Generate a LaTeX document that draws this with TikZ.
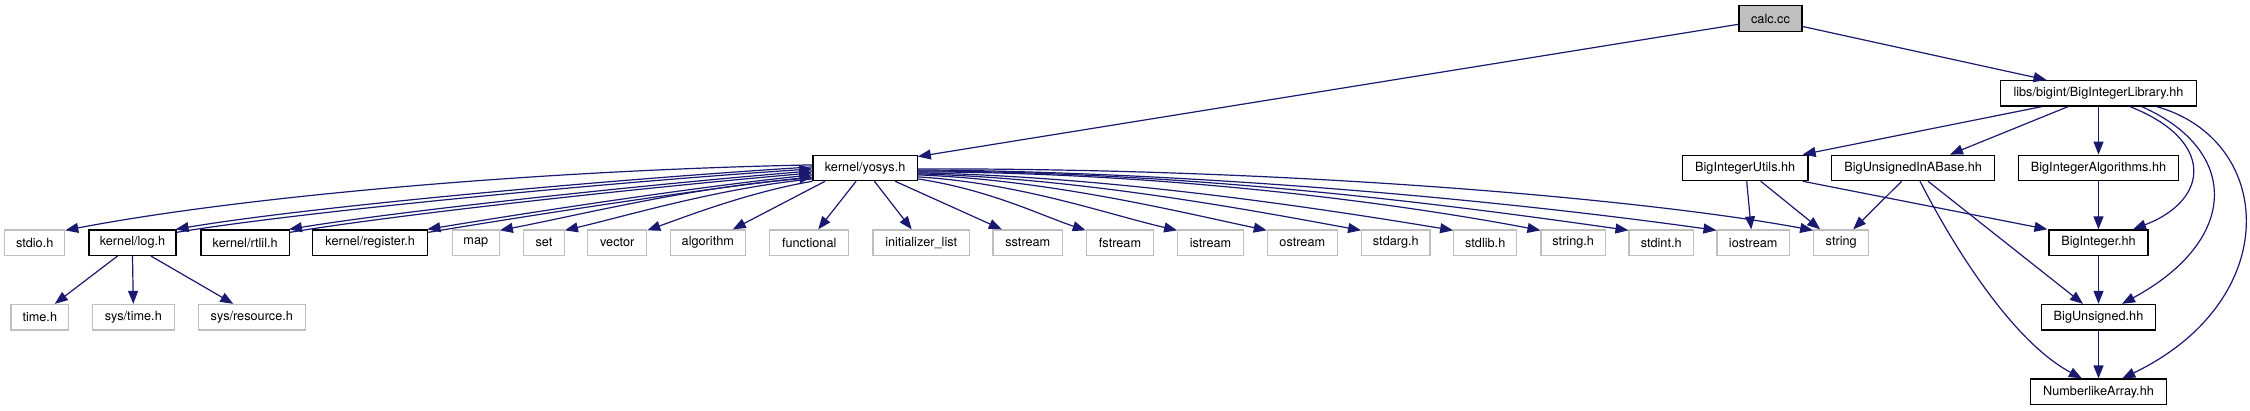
\documentclass[tikz,border=0pt]{standalone}
\usepackage{fontspec}
\setmainfont{TeX Gyre Heros}
\usetikzlibrary{arrows.meta}
\definecolor{edgecol}{RGB}{25,25,112}
\definecolor{extgray}{RGB}{191,191,191}
\begin{document}
\begin{tikzpicture}[x=1pt,y=-1pt,
  box/.style={draw=black, line width=1.2pt, fill=white, minimum height=25.5pt, inner sep=0pt, font=\fontsize{12.7pt}{14pt}\selectfont},
  extbox/.style={box, draw=extgray},
  rootbox/.style={box, fill=extgray},
  edge/.style={draw=edgecol, line width=1.2pt, -{Triangle[length=13pt,width=10pt]}}]
\useasboundingbox (0,0) rectangle (2250,411);
% row 0
\node[rootbox, minimum width=63pt] (calc) at (1770.5,18.5) {calc.cc};
% row 1
\node[box, minimum width=196.4pt] (lib) at (2098.5,93.3) {libs/bigint/BigIntegerLibrary.hh};
% row 2
\node[box, minimum width=104.3pt] (yosys) at (865.1,167.9) {kernel/yosys.h};
\node[box, minimum width=125.7pt] (utils) at (1745.2,167.9) {BigIntegerUtils.hh};
\node[box, minimum width=163pt] (base) at (1913.2,167.9) {BigUnsignedInABase.hh};
\node[box, minimum width=160.4pt] (algo) at (2098.5,167.9) {BigIntegerAlgorithms.hh};
% row 3
\node[extbox, minimum width=60pt] (stdio) at (34.7,242.7) {stdio.h};
\node[box, minimum width=87pt] (log) at (132.5,242.7) {kernel/log.h};
\node[box, minimum width=88.3pt] (rtlil) at (245.2,242.7) {kernel/rtlil.h};
\node[box, minimum width=115pt] (register) at (370.2,242.7) {kernel/register.h};
\node[extbox, minimum width=47pt] (map) at (475.8,242.7) {map};
\node[extbox, minimum width=40.6pt] (set) at (544,242.7) {set};
\node[extbox, minimum width=59pt] (vector) at (617.2,242.7) {vector};
\node[extbox, minimum width=75pt] (algorithm) at (707.8,242.7) {algorithm};
\node[extbox, minimum width=79pt] (functional) at (809.2,242.7) {functional};
\node[extbox, minimum width=96.3pt] (initlist) at (921.2,242.7) {initializer\_list};
\node[extbox, minimum width=69.7pt] (sstream) at (1027.8,242.7) {sstream};
\node[extbox, minimum width=67.4pt] (fstream) at (1120,242.7) {fstream};
\node[extbox, minimum width=65.6pt] (istream) at (1210.5,242.7) {istream};
\node[extbox, minimum width=70pt] (ostream) at (1302.3,242.7) {ostream};
\node[extbox, minimum width=68.3pt] (stdarg) at (1395.8,242.7) {stdarg.h};
\node[extbox, minimum width=63pt] (stdlib) at (1485.2,242.7) {stdlib.h};
\node[extbox, minimum width=64.3pt] (stringh) at (1573.2,242.7) {string.h};
\node[extbox, minimum width=64.3pt] (stdint) at (1661.2,242.7) {stdint.h};
\node[extbox, minimum width=72.3pt] (iostream) at (1753.2,242.7) {iostream};
\node[extbox, minimum width=55pt] (string) at (1841.2,242.7) {string};
\node[box, minimum width=99pt] (bigint) at (2098.5,242.7) {BigInteger.hh};
% row 4
\node[extbox, minimum width=57.7pt] (timeh) at (39.8,317.2) {time.h};
\node[extbox, minimum width=82pt] (systime) at (133.3,317.2) {sys/time.h};
\node[extbox, minimum width=107pt] (sysres) at (251.8,317.2) {sys/resource.h};
\node[box, minimum width=113.6pt] (bigunsigned) at (2098.5,317.2) {BigUnsigned.hh};
% row 5
\node[box, minimum width=135.3pt] (numarr) at (2098.5,391.8) {NumberlikeArray.hh};

% calc.cc edges
\draw[edge] ([yshift=-5.8pt]calc.west) -- ([yshift=-2pt]yosys.north east);
\draw[edge] ([yshift=-8pt]calc.east) -- ([xshift=-52pt]lib.north);

% yosys left fan
\draw[edge] ([yshift=3pt]yosys.west) .. controls (550,170) and (250,195) .. ([yshift=-1pt]stdio.north east);
\draw[edge] ([yshift=1pt]yosys.west) .. controls (600,180) and (300,208) .. ([xshift=-1pt]log.north east);
\draw[edge] ([yshift=-3pt]log.north east) .. controls (300,212) and (600,183) .. ([yshift=-1pt]yosys.west);
\draw[edge] ([yshift=-3pt]yosys.west) .. controls (650,184) and (400,211) .. ([xshift=-1pt]rtlil.north east);
\draw[edge] ([yshift=-3pt]rtlil.north east) .. controls (400,214) and (650,187) .. ([yshift=-5pt]yosys.west);
\draw[edge] ([yshift=-7pt]yosys.west) .. controls (700,186) and (520,214) .. ([xshift=-1pt]register.north east);
\draw[edge] ([yshift=-3pt]register.north east) .. controls (520,217) and (700,189) .. ([yshift=-9pt]yosys.west);
\draw[edge] ([yshift=-10pt]yosys.west) .. controls (700,185) and (580,215) .. ([yshift=-1pt]map.north east);
\draw[edge] ([yshift=-11pt]yosys.west) .. controls (720,188) and (630,215) .. ([yshift=-1pt]set.north east);
\draw[edge] (yosys.south west) .. controls (750,192) and (690,215) .. ([yshift=-1pt]vector.north east);
\draw[edge] ([xshift=-40pt]yosys.south) -- ([xshift=25pt]algorithm.north);
\draw[edge] ([xshift=-9pt]yosys.south) -- ([xshift=9pt]functional.north);
\draw[edge] ([xshift=9.3pt]yosys.south) -- ([xshift=-9.5pt]initlist.north);
% yosys right fan
\draw[edge] ([xshift=30pt]yosys.south) -- ([xshift=-26pt]sstream.north);
\draw[edge] ([yshift=-11pt]yosys.east) .. controls (990,190) and (1040,215) .. ([yshift=-1pt]fstream.north west);
\draw[edge] ([yshift=-9pt]yosys.east) .. controls (1020,183) and (1110,215) .. ([yshift=-1pt]istream.north west);
\draw[edge] ([yshift=-7pt]yosys.east) .. controls (1050,180) and (1180,212) .. ([yshift=-1pt]ostream.north west);
\draw[edge] ([yshift=-6pt]yosys.east) .. controls (1080,178) and (1250,210) .. ([yshift=-1pt]stdarg.north west);
\draw[edge] ([yshift=-5pt]yosys.east) .. controls (1100,176) and (1300,205) .. ([yshift=-1pt]stdlib.north west);
\draw[edge] ([yshift=-4pt]yosys.east) .. controls (1150,172) and (1380,200) .. ([yshift=-1pt]stringh.north west);
\draw[edge] ([yshift=-3pt]yosys.east) .. controls (1200,172) and (1450,205) .. ([yshift=-1pt]stdint.north west);
\draw[edge] ([yshift=-2pt]yosys.east) .. controls (1200,172) and (1500,200) .. ([yshift=-1pt]iostream.north west);
\draw[edge] ([yshift=-1pt]yosys.east) .. controls (1300,168) and (1650,200) .. ([yshift=-1pt]string.north west);

% kernel/log.h children
\draw[edge] ([xshift=-15pt]log.south) -- ([xshift=15pt]timeh.north);
\draw[edge] (log.south) -- (systime.north);
\draw[edge] ([xshift=18.5pt]log.south) -- ([xshift=-18.5pt]sysres.north);

% bigint library
\draw[edge] ([xshift=-56.8pt]lib.south) -- ([xshift=-6pt]utils.north east);
\draw[edge] ([xshift=-30.5pt]lib.south) -- ([xshift=36.8pt]base.north);
\draw[edge] (lib.south) -- (algo.north);
\draw[edge] ([xshift=31.5pt]lib.south) .. controls (2215,140) and (2210,200) .. ([xshift=34.5pt]bigint.north);
\draw[edge] ([xshift=43.2pt]lib.south) .. controls (2240,150) and (2240,240) .. ([xshift=23.5pt]bigunsigned.north);
\draw[edge] ([xshift=58.2pt]lib.south) .. controls (2275,140) and (2285,300) .. ([xshift=23.7pt]numarr.north);

\draw[edge] ([xshift=1.5pt]utils.south) -- ([xshift=-2pt]iostream.north);
\draw[edge] ([xshift=15.5pt]utils.south) -- ([xshift=-21pt]string.north);
\draw[edge] ([xshift=-6pt]utils.south east) -- ([xshift=-1pt]bigint.north west);

\draw[edge] ([xshift=-11.5pt]base.south) -- ([xshift=12pt]string.north);
\draw[edge] ([xshift=14.8pt]base.south) -- ([xshift=-15.5pt]bigunsigned.north);
\draw[edge] ([xshift=6.8pt]base.south) .. controls (1950,240) and (2010,340) .. ([xshift=-16.6pt]numarr.north);

\draw[edge] (algo.south) -- (bigint.north);
\draw[edge] (bigint.south) -- (bigunsigned.north);
\draw[edge] (bigunsigned.south) -- (numarr.north);
\end{tikzpicture}
\end{document}
